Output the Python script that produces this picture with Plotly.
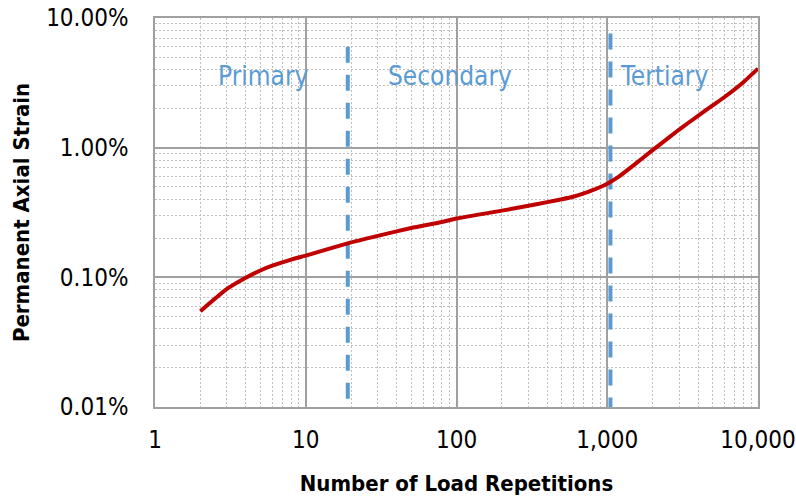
import math
import plotly.graph_objects as go

# Data
cycles = [2, 3, 4, 5, 6, 8, 10, 20, 30, 50, 80, 100, 200, 300, 400, 500, 600, 700, 800, 900,
          1000, 1200, 1500, 2000, 3000, 4000, 5000, 6000, 8000, 10000]
strain = [0.000548, 0.000814, 0.000993, 0.00113, 0.00123, 0.00137, 0.00147, 0.00186, 0.00209,
          0.00240, 0.00267, 0.00284, 0.00327, 0.00356, 0.00380, 0.00400, 0.00420, 0.00444, 0.00470,
          0.00497, 0.00527, 0.0060, 0.00733, 0.00957, 0.0138, 0.0176, 0.0212, 0.0246, 0.032, 0.0407]

boundary_cycles = [19, 1050]
boundary_top = [0.060, 0.076]
axis_floor = 0.0001

phase_names = ["Primary", "Secondary", "Tertiary"]
phase_x = [5.2, 90.6, 2387]
phase_y = 0.036

x_tickvals = [1, 10, 100, 1000, 10000]
y_tickvals = [0.0001, 0.001, 0.01, 0.1]

FONT = "'DejaVu Sans Condensed', 'Liberation Sans Narrow', 'Arial Narrow', sans-serif"
BLUE = "#5B9BD5"

fig = go.Figure()

for bx, bt in zip(boundary_cycles, boundary_top):
    fig.add_trace(go.Scatter(x=[bx, bx], y=[bt, axis_floor], mode="lines",
                             line=dict(color=BLUE, width=4, dash="16px,12px"),
                             showlegend=False, hoverinfo="skip"))

fig.add_trace(go.Scatter(x=cycles, y=strain, mode="lines",
                         line=dict(color="#C00000", width=4, shape="spline", smoothing=0.5),
                         showlegend=False))

# annotations on log axes take log10 coordinates
for name, px in zip(phase_names, phase_x):
    fig.add_annotation(x=math.log10(px), y=math.log10(phase_y), xref="x", yref="y",
                       text=name, showarrow=False,
                       font=dict(family=FONT, size=26, color=BLUE))

fig.update_layout(
    width=796, height=504,
    margin=dict(l=155, r=38, t=18, b=97),
    paper_bgcolor="white", plot_bgcolor="white",
    font=dict(family=FONT, color="#000000"),
)

eps = 1e-6
minor_grid = dict(dtick="D1", showgrid=True, gridcolor="#BFBFBF", griddash="2px,2px", gridwidth=1)
fig.update_xaxes(
    type="log", range=[-eps, 4 + eps], tickvals=x_tickvals, tickformat=",",
    tickfont=dict(size=24), ticks="", ticklabelstandoff=10, automargin=False,
    ticklabeloverflow="allow",
    showgrid=True, gridcolor="#A0A0A0", gridwidth=1.5,
    showline=True, linecolor="#A0A0A0", linewidth=1.5, mirror=True,
    minor=minor_grid,
    title=dict(text="Number of Load Repetitions", font=dict(size=22, weight="bold"), standoff=23),
    zeroline=False,
)
fig.update_yaxes(
    type="log", range=[-4 - eps, -1 + eps], tickvals=y_tickvals, tickformat=".2%",
    tickfont=dict(size=24), ticks="", ticklabelstandoff=20, automargin=False,
    ticklabeloverflow="allow",
    showgrid=True, gridcolor="#A0A0A0", gridwidth=1.5,
    showline=True, linecolor="#A0A0A0", linewidth=1.5, mirror=True,
    minor=minor_grid,
    title=dict(text="Permanent Axial Strain", font=dict(size=22, weight="bold"), standoff=10),
    zeroline=False,
)

# remove the browser's default 8px body margin so the figure fills the window exactly
fig.write_html("out.html", config={"displayModeBar": False},
               post_script="document.body.style.margin='0';")
